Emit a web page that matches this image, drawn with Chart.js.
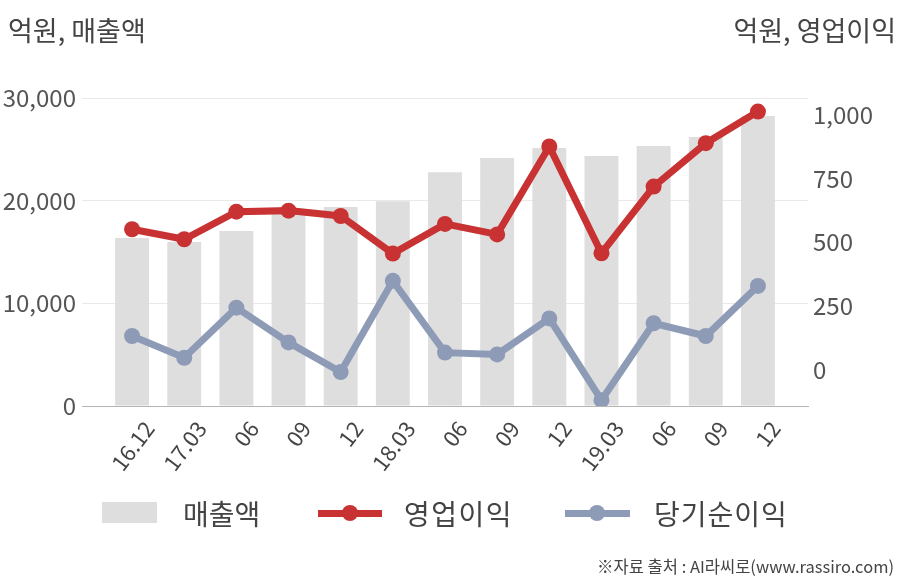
<!DOCTYPE html>
<html>
<head>
<meta charset="utf-8">
<script src="https://cdn.jsdelivr.net/npm/chart.js@4"></script>
<style>
    body { margin: 0; background: #fff; }
    #wrap { position: relative; width: 908px; height: 580px; font-family: "Noto Sans CJK KR", "Noto Sans", sans-serif; color: #444; }
    #chart { position: absolute; left: 0; top: 0; }
    .unit { position: absolute; top: 10px; font-size: 27px; color: #444; }
    .leg { position: absolute; top: 493px; font-size: 28px; color: #444; line-height: 40px; }
    .sw { position: absolute; }
    #src { position: absolute; right: 14px; top: 554px; font-size: 16.5px; color: #444; }
</style>
</head>
<body>
<div id="wrap">
    <canvas id="chart" width="908" height="580"></canvas>
    <div class="unit" style="left:8px">억원, 매출액</div>
    <div class="unit" style="right:12px">억원, 영업이익</div>

    <div class="sw" style="left:102px; top:502px; width:55px; height:21px; background:#dedede"></div>
    <div class="leg" style="left:183px">매출액</div>
    <div class="sw" style="left:318px; top:510px; width:64px; height:7px; background:#c83232"></div>
    <div class="sw" style="left:342px; top:505px; width:16px; height:16px; border-radius:8px; background:#c83232"></div>
    <div class="leg" style="left:404px; letter-spacing:1.5px">영업이익</div>
    <div class="sw" style="left:565px; top:510px; width:65px; height:7px; background:#8e9bb6"></div>
    <div class="sw" style="left:589px; top:505px; width:16px; height:16px; border-radius:8px; background:#8e9bb6"></div>
    <div class="leg" style="left:654px; letter-spacing:1px">당기순이익</div>

    <div id="src">※자료 출처 : AI라씨로(www.rassiro.com)</div>
</div>
<script>
// quarter labels
const labels = ["16.12", "17.03", "06", "09", "12", "18.03", "06", "09", "12", "19.03", "06", "09", "12"];
// 매출액 (left axis, 억원)
const sales = [16360, 15970, 17040, 18900, 19380, 19950, 22780, 24150, 25120, 24340, 25320, 26190, 28240];
// 영업이익 (right axis)
const opProfit = [551, 512, 620, 624, 603, 456, 572, 531, 875, 457, 718, 888, 1012];
// 당기순이익 (right axis)
const netProfit = [133, 48, 244, 108, -8, 349, 68, 61, 202, -118, 183, 133, 329];

const leftTicks = [0, 10000, 20000, 30000];
const rightTicks = [0, 250, 500, 750, 1000];

// rotated labels sit a bit right of the bar centre
const labelShift = 0.33;

const pts = arr => arr.map((v, i) => ({x: i, y: v}));
const tickFont = {family: "'Noto Sans CJK KR', 'Noto Sans', sans-serif", size: 24};

new Chart("chart", {
    data: {
        datasets: [{
            type: "line",
            label: "영업이익",
            data: pts(opProfit),
            yAxisID: "y1",
            borderColor: "#c83232",
            backgroundColor: "#c83232",
            borderWidth: 7,
            pointRadius: 8,
            pointBorderWidth: 0,
            tension: 0,
            order: 1
        }, {
            type: "line",
            label: "당기순이익",
            data: pts(netProfit),
            yAxisID: "y1",
            borderColor: "#8e9bb6",
            backgroundColor: "#8e9bb6",
            borderWidth: 7,
            pointRadius: 8,
            pointBorderWidth: 0,
            tension: 0,
            order: 2
        }, {
            type: "bar",
            label: "매출액",
            data: pts(sales),
            yAxisID: "y",
            backgroundColor: "#dedede",
            barPercentage: 0.65,
            categoryPercentage: 1,
            order: 3
        }]
    },
    options: {
        responsive: false,
        animation: false,
        layout: {padding: {top: 98, left: 0, right: 0, bottom: 0}},
        plugins: {legend: {display: false}, tooltip: {enabled: false}},
        scales: {
            x: {
                type: "linear",
                offset: false,
                min: -0.96,
                max: 12.96,
                afterBuildTicks: s => { s.ticks = labels.map((l, i) => ({value: i + labelShift})); },
                afterFit: s => { s.height = 174; },
                grid: {display: false, drawTicks: false},
                border: {display: true, color: "#b4b4b4", width: 1},
                ticks: {
                    callback: v => labels[Math.round(v - labelShift)],
                    font: {family: tickFont.family, size: 22},
                    color: "#444",
                    minRotation: 53,
                    maxRotation: 53,
                    padding: 10
                }
            },
            y: {
                position: "left",
                min: 0,
                max: 30000,
                afterBuildTicks: s => { s.ticks = leftTicks.map(v => ({value: v})); },
                afterFit: s => { s.width = 82; },
                grid: {color: "#e9e9e9", drawTicks: false},
                border: {display: false},
                ticks: {
                    font: tickFont,
                    color: "#555",
                    padding: 6,
                    callback: v => v.toLocaleString("en-US")
                }
            },
            y1: {
                position: "right",
                min: -141,
                max: 1065,
                afterBuildTicks: s => { s.ticks = rightTicks.map(v => ({value: v})); },
                afterFit: s => { s.width = 100; },
                grid: {display: false, drawTicks: false},
                border: {display: false},
                ticks: {
                    font: tickFont,
                    color: "#555",
                    padding: 5,
                    callback: v => v.toLocaleString("en-US")
                }
            }
        }
    }
});
</script>
</body>
</html>
